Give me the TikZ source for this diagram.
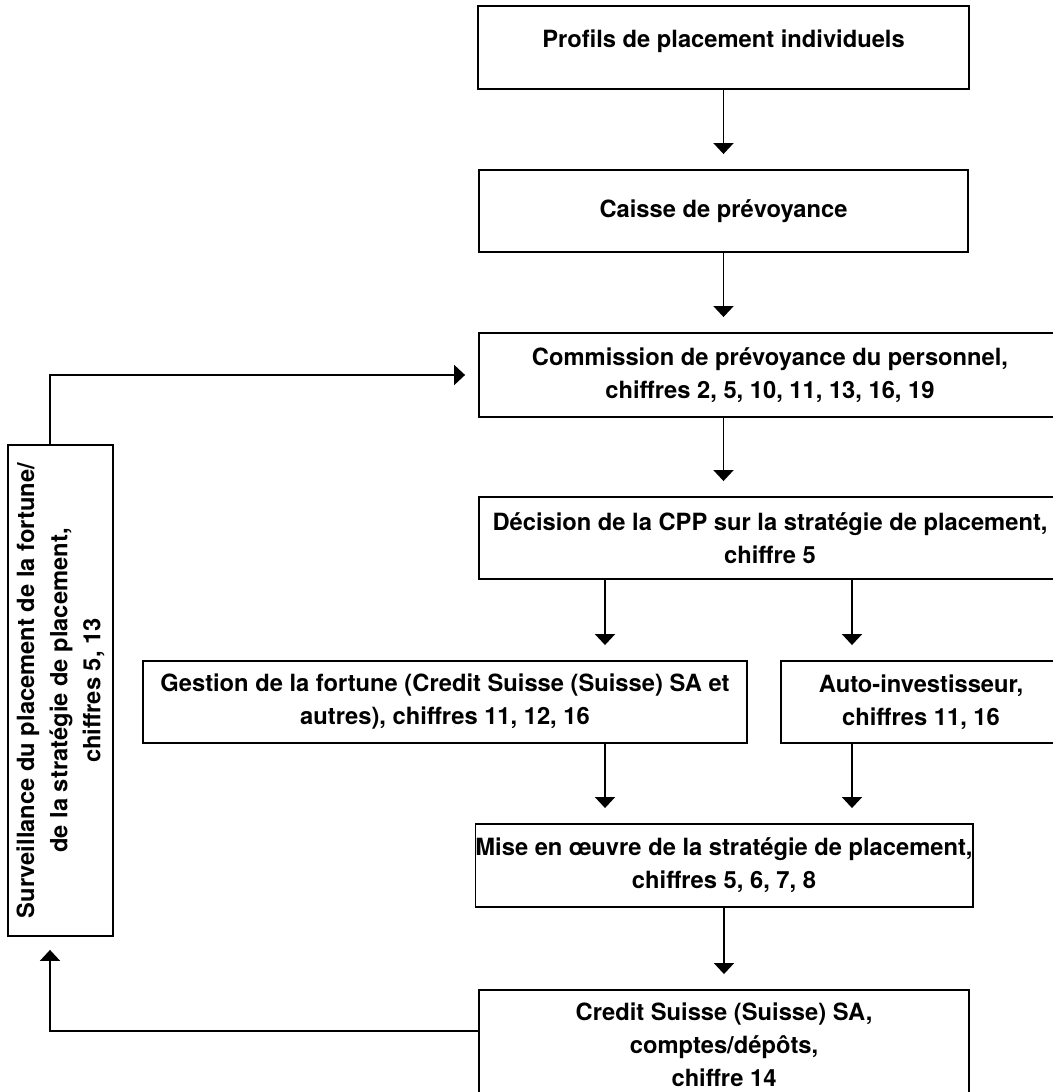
\documentclass[tikz,border=0pt]{standalone}
\usepackage{fontspec}
\setmainfont{TeX Gyre Heros}
\usepackage{tikz}
\usetikzlibrary{arrows.meta,calc}
\tikzset{
  box/.style ={draw,line width=1.1pt,align=center,inner sep=0pt,
               font=\bfseries\fontsize{13.5}{18.8}\selectfont},
  arr/.style ={line width=1.1pt,-{Triangle[width=4mm,length=2.2mm]},shorten >=0.3cm},
  loopline/.style={line width=1.1pt,-{Triangle[width=4mm,length=2.2mm]},shorten >=0.26cm},
}

\begin{document}
\begin{tikzpicture}[x=0.02cm,y=-0.02cm]
  \useasboundingbox (0,0) rectangle (1052,1092);
  % main column
  \node[box,minimum width=9.82cm,minimum height=1.66cm,text depth=0.34cm] (prof) at (723.5,47.5) {Profils de placement individuels};
  \node[box,minimum width=9.8cm, minimum height=1.64cm] (caisse) at (723.5,211) {Caisse de prévoyance};
  \node[box,minimum width=11.64cm,minimum height=1.68cm] (cpp) at (770,375)    {Commission de prévoyance du personnel,\\chiffres 2, 5, 10, 11, 13, 16, 19};
  \node[box,minimum width=11.64cm,minimum height=1.64cm] (decis) at (770,538)  {Décision de la CPP sur la stratégie de placement,\\chiffre 5};
  \node[box,minimum width=12.08cm,minimum height=1.64cm] (gest) at (445,702)   {Gestion de la fortune (Credit Suisse (Suisse) SA et\\autres), chiffres 11, 12, 16};
  \node[box,minimum width=5.6cm, minimum height=1.64cm] (auto) at (921,702)    {Auto-investisseur,\\chiffres 11, 16};
  \node[box,minimum width=9.8cm, minimum height=1.66cm] (mise) at (724,865.5)  {Mise en œuvre de la stratégie de placement,\\chiffres 5, 6, 7, 8};
  \node[box,minimum width=9.8cm, minimum height=2.2cm]  (cs) at (724,1045)     {Credit Suisse (Suisse) SA,\\comptes/dépôts,\\chiffre 14};
  % monitoring box
  \node[box,rotate=90,minimum width=9.82cm,minimum height=2.1cm] (surv) at (60.5,690.5)
    {Surveillance du placement de la fortune/\\de la stratégie de placement,\\chiffres 5, 13};

  \coordinate (lx) at (605,0);
  \coordinate (rx) at (852,0);
  \coordinate (fx) at (50,0);

  \draw[arr] (prof) -- (caisse);
  \draw[arr] (caisse) -- (caisse |- cpp.north);
  \draw[arr] (cpp.south -| caisse) -- (decis.north -| caisse);
  \draw[arr] (decis.south -| lx) -- (gest.north -| lx);
  \draw[arr] (decis.south -| rx) -- (auto.north -| rx);
  \draw[arr] (gest.south -| lx) -- (mise.north -| lx);
  \draw[arr] (auto.south -| rx) -- (mise.north -| rx);
  \draw[arr] (mise) -- (cs);
  % feedback loop
  \draw[loopline] (surv.east -| fx) |- (cpp.west);
  \draw[loopline] ([yshift=0.28cm]cs.west) -| (surv.west -| fx);
\end{tikzpicture}
\end{document}
